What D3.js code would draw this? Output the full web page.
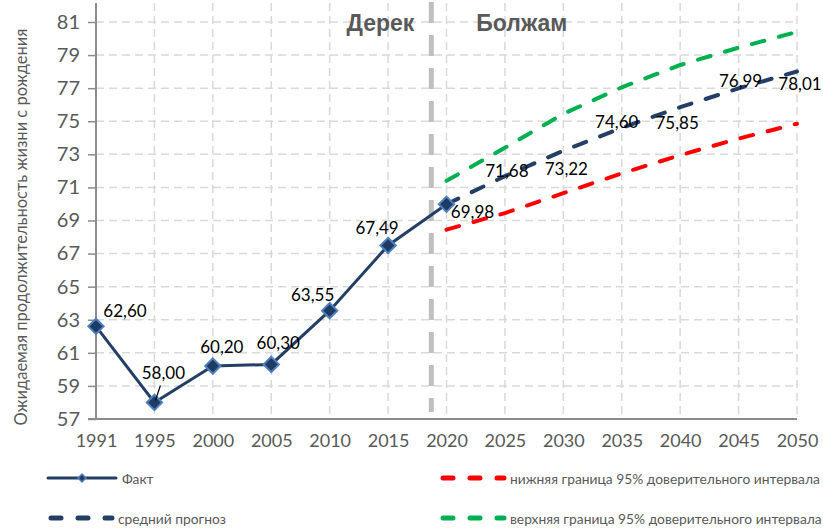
<!DOCTYPE html>
<html>
<head>
<meta charset="utf-8">
<script src="https://cdn.jsdelivr.net/npm/d3@7"></script>
<style>
  body { margin: 0; background: #fff; }
  svg { display: block; }
  text { font-family: Lato, "Open Sans", sans-serif; }
</style>
</head>
<body>
<svg id="chart" width="823" height="529"></svg>
<script>
// ---------- data ----------
const categories = ["1991","1995","2000","2005","2010","2015","2020","2025","2030","2035","2040","2045","2050"];
const factYears = ["1991","1995","2000","2005","2010","2015","2020"];
const factValues = [62.60, 58.00, 60.20, 60.30, 63.55, 67.49, 69.98];
const forecastYears = ["2020","2025","2030","2035","2040","2045","2050"];
const meanForecast = [69.98, 71.68, 73.22, 74.60, 75.85, 76.99, 78.01];
const lowerBound = [68.45, 69.45, 70.65, 71.85, 72.95, 73.95, 74.85];
const upperBound = [71.40, 73.40, 75.45, 77.05, 78.40, 79.45, 80.40];
const yTicks = [57,59,61,63,65,67,69,71,73,75,77,79,81];
const yTitle = "Ожидаемая продолжительность жизни с рождения";
const periodLabels = ["Дерек", "Болжам"];
const legendLabels = ["Факт", "нижняя граница 95% доверительного интервала", "средний прогноз", "верхняя граница 95% доверительного интервала"];

// label offsets (style only)
const factLabelOffsets = [[29,-16],[9,-30],[9,-20],[7,-22],[-17,-16],[-11,-18],[26,7]];
const meanLabelOffsets = [null,[2,-6],[3,18],[-5,-6],[-3,15],[2,-8],[3,12]];

const fmt = v => v.toFixed(2).replace(".", ",");

// ---------- layout ----------
const svg = d3.select("#chart");
const pLeft = 96, pRight = 797, pTop = 3, pBottom = 419;
const x = d3.scalePoint().domain(categories).range([pLeft, pRight]).padding(0);
const y = d3.scaleLinear().domain([57, 81]).range([419, 22]);

const gridColor = "#d9d9d9";
const axisColor = "#8c8c8c";
const textColor = "#595959";
const navy = "#243f66";

// grid
const g = svg.append("g");
g.selectAll(".hg").data(yTicks.slice(1)).join("line")
  .attr("x1", pLeft).attr("x2", pRight)
  .attr("y1", d => y(d)).attr("y2", d => y(d))
  .attr("stroke", gridColor).attr("stroke-width", 1.5).attr("stroke-dasharray", "8,5");
g.selectAll(".vg").data(categories.slice(1)).join("line")
  .attr("x1", d => x(d)).attr("x2", d => x(d))
  .attr("y1", pTop).attr("y2", pBottom)
  .attr("stroke", gridColor).attr("stroke-width", 1.5).attr("stroke-dasharray", "8,5");

// y axis
const yAxis = d3.axisLeft(y).tickValues(yTicks).tickSize(8).tickPadding(8).tickFormat(d3.format("d"));
const ya = svg.append("g").attr("transform", `translate(${pLeft},0)`).call(yAxis);
ya.select(".domain").remove();
ya.selectAll(".tick line").attr("stroke", axisColor).attr("stroke-width", 1.5);
ya.selectAll(".tick text").attr("fill", textColor).style("font-size", "20px").style("font-family", "Lato, sans-serif");
svg.append("line").attr("x1", pLeft).attr("x2", pLeft).attr("y1", pTop).attr("y2", pBottom)
  .attr("stroke", axisColor).attr("stroke-width", 2);

// x axis
const xAxis = d3.axisBottom(x).tickSize(0).tickPadding(15);
const xa = svg.append("g").attr("transform", `translate(0,${pBottom})`).call(xAxis);
xa.select(".domain").remove();
xa.selectAll(".tick text").attr("fill", textColor).style("font-size", "18px").style("font-family", "Lato, sans-serif");
svg.append("line").attr("x1", pLeft - 8).attr("x2", pRight).attr("y1", pBottom).attr("y2", pBottom)
  .attr("stroke", axisColor).attr("stroke-width", 2);

// y title
svg.append("text")
  .attr("transform", `translate(27,${(pTop + pBottom) / 2 + 16}) rotate(-90)`)
  .attr("text-anchor", "middle").attr("fill", textColor).style("font-size", "16.5px")
  .text(yTitle);

// divider
const step = x.step();
const divX = x("2015") + step * 0.74;
svg.append("line").attr("x1", divX).attr("x2", divX).attr("y1", 2).attr("y2", 412)
  .attr("stroke", "#bfbfbf").attr("stroke-width", 5).attr("stroke-dasharray", "21,12");
svg.append("text").attr("x", divX - 17).attr("y", 31).attr("text-anchor", "end")
  .attr("fill", textColor).style("font-family", "'Liberation Sans', Arial, sans-serif")
  .style("font-size", "23px").style("font-weight", "bold").text(periodLabels[0]);
svg.append("text").attr("x", divX + 45).attr("y", 31).attr("text-anchor", "start")
  .attr("fill", textColor).style("font-family", "'Liberation Sans', Arial, sans-serif")
  .style("font-size", "23px").style("font-weight", "bold").text(periodLabels[1]);

// lines
const line = d3.line().x(d => x(d[0])).y(d => y(d[1]));
const dash = "13,15";
function dashed(years, vals, color) {
  svg.append("path").datum(years.map((c, i) => [c, vals[i]]))
    .attr("d", line).attr("fill", "none").attr("stroke", color)
    .attr("stroke-width", 4).attr("stroke-linecap", "round").attr("stroke-dasharray", dash);
}
dashed(forecastYears, lowerBound, "#ff0000");
dashed(forecastYears, upperBound, "#00b050");
dashed(forecastYears, meanForecast, navy);

svg.append("path").datum(factYears.map((c, i) => [c, factValues[i]]))
  .attr("d", line).attr("fill", "none").attr("stroke", navy).attr("stroke-width", 3);

const diamond = d3.symbol().type(d3.symbolDiamond2).size(150);
svg.selectAll(".mk").data(factYears.map((c, i) => [c, factValues[i]])).join("path")
  .attr("d", diamond)
  .attr("transform", d => `translate(${x(d[0])},${y(d[1])})`)
  .attr("fill", "#1f3a64").attr("stroke", "#4f81bd").attr("stroke-width", 2);

// data labels
const lblSize = "17px";
factYears.forEach((c, i) => {
  const [dx, dy] = factLabelOffsets[i];
  svg.append("text").attr("x", x(c) + dx).attr("y", y(factValues[i]) + dy)
    .attr("text-anchor", "middle").attr("dominant-baseline", "central")
    .attr("fill", "#000").style("font-size", lblSize).text(fmt(factValues[i]));
});
// leader line for 1995
svg.append("line")
  .attr("x1", x("1995") + 1).attr("y1", y(factValues[1]) - 2)
  .attr("x2", x("1995") + 6).attr("y2", y(factValues[1]) - 17)
  .attr("stroke", "#000").attr("stroke-width", 1.2);

forecastYears.forEach((c, i) => {
  if (!meanLabelOffsets[i]) return;
  const [dx, dy] = meanLabelOffsets[i];
  svg.append("text").attr("x", x(c) + dx).attr("y", y(meanForecast[i]) + dy)
    .attr("text-anchor", "middle").attr("dominant-baseline", "central")
    .attr("fill", "#000").style("font-size", lblSize).text(fmt(meanForecast[i]));
});

// legend
const lg = svg.append("g").style("font-size", "13.8px");
const rows = [
  {x: 48, y: 478, type: "fact", color: navy, label: legendLabels[0]},
  {x: 440, y: 478, type: "dash", color: "#ff0000", label: legendLabels[1]},
  {x: 48, y: 518, type: "dash", color: navy, label: legendLabels[2]},
  {x: 440, y: 518, type: "dash", color: "#00b050", label: legendLabels[3]}
];
rows.forEach(r => {
  const w = r.type === "fact" ? 68 : 64;
  if (r.type === "fact") {
    lg.append("line").attr("x1", r.x).attr("x2", r.x + w).attr("y1", r.y).attr("y2", r.y)
      .attr("stroke", r.color).attr("stroke-width", 3).attr("stroke-linecap", "round");
    lg.append("path").attr("d", d3.symbol().type(d3.symbolDiamond2).size(40))
      .attr("transform", `translate(${r.x + w / 2},${r.y})`)
      .attr("fill", "#1f3a64").attr("stroke", "#4f81bd").attr("stroke-width", 1.5);
  } else {
    lg.append("line").attr("x1", r.x + 3).attr("x2", r.x + w).attr("y1", r.y).attr("y2", r.y)
      .attr("stroke", r.color).attr("stroke-width", 5).attr("stroke-linecap", "round")
      .attr("stroke-dasharray", "10,17");
  }
  lg.append("text").attr("x", r.x + w + 6).attr("y", r.y).attr("dominant-baseline", "central")
    .attr("fill", textColor).text(r.label);
});
</script>
</body>
</html>
